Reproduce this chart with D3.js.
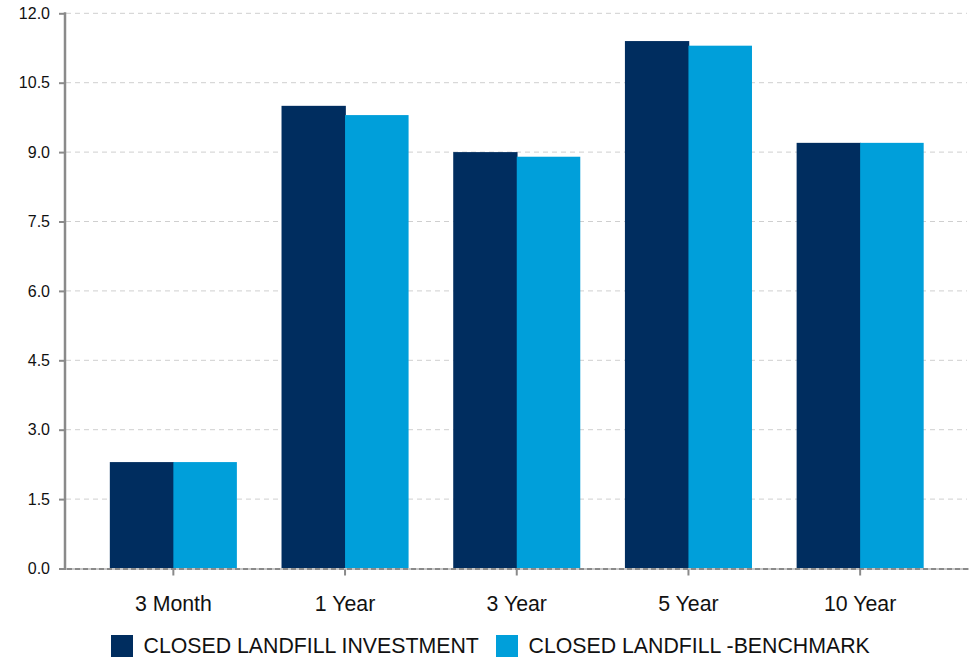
<!DOCTYPE html>
<html>
<head>
<meta charset="utf-8">
<script src="https://cdn.jsdelivr.net/npm/d3@7"></script>
<style>
  html, body { margin: 0; padding: 0; background: #fff; }
  svg { display: block; font-family: "Liberation Sans", Arial, sans-serif; }
</style>
</head>
<body>
<svg id="chart" width="975" height="658"></svg>
<script>
// Return periods and the two series
const categories = ["3 Month", "1 Year", "3 Year", "5 Year", "10 Year"];
const seriesNames = ["CLOSED LANDFILL INVESTMENT", "CLOSED LANDFILL -BENCHMARK"];
const investment = [2.3, 10.0, 9.0, 11.4, 9.2];
const benchmark = [2.3, 9.8, 8.9, 11.3, 9.2];
const yTicks = [0, 1.5, 3.0, 4.5, 6.0, 7.5, 9.0, 10.5, 12.0];
const colors = ["#002d5f", "#009fda"];

const svg = d3.select("#chart");

const plotLeft = 65, plotRight = 967, plotTop = 13.3, plotBottom = 568.5;

const y = d3.scaleLinear().domain([0, 12]).range([plotBottom, plotTop]);
const x = d3.scaleBand().domain(categories).range([87.5, 946]).paddingInner(0.26).paddingOuter(0.13);
const xSub = d3.scaleBand().domain([0, 1]).range([0, x.bandwidth()]);

// Horizontal dashed gridlines
svg.append("g")
  .selectAll("line")
  .data(yTicks.filter(d => d > 0))
  .join("line")
  .attr("x1", plotLeft + 1).attr("x2", plotRight)
  .attr("y1", d => y(d)).attr("y2", d => y(d))
  .attr("stroke", "#cfcfcf")
  .attr("stroke-width", 1)
  .attr("stroke-dasharray", "5,4");

// Bars (grouped; the first bar of each pair is widened slightly so the pair has no seam)
const rows = categories.map((c, i) => ({ cat: c, vals: [investment[i], benchmark[i]] }));
svg.append("g")
  .selectAll("g")
  .data(rows)
  .join("g")
  .attr("transform", d => `translate(${x(d.cat)},0)`)
  .selectAll("rect")
  .data(d => d.vals.map((v, k) => ({ v, k })))
  .join("rect")
  .attr("x", d => xSub(d.k))
  .attr("width", d => xSub.bandwidth() + (d.k === 0 ? 0.8 : 0))
  .attr("y", d => y(d.v))
  .attr("height", d => y(0) - y(d.v))
  .attr("fill", d => colors[d.k]);

// Baseline (dashed gray)
svg.append("line")
  .attr("x1", plotLeft - 6).attr("x2", plotRight + 2)
  .attr("y1", y(0) + 0.5).attr("y2", y(0) + 0.5)
  .attr("stroke", "#c8c8c8").attr("stroke-width", 2);
svg.append("line")
  .attr("x1", plotLeft - 6).attr("x2", plotRight + 2)
  .attr("y1", y(0) + 0.5).attr("y2", y(0) + 0.5)
  .attr("stroke", "#8a8a8a").attr("stroke-width", 2)
  .attr("stroke-dasharray", "5,3");

// Y axis
const yAxis = d3.axisLeft(y)
  .tickValues(yTicks)
  .tickFormat(d3.format(".1f"))
  .tickSize(6)
  .tickPadding(9);
const gy = svg.append("g")
  .attr("transform", `translate(${plotLeft},0)`)
  .call(yAxis);
gy.select(".domain").remove();
gy.selectAll(".tick line").attr("stroke", "#8a8a8a").attr("stroke-width", 2);
gy.selectAll(".tick text")
  .attr("fill", "#111")
  .style("font-size", "16px")
  .style("font-family", "'Liberation Sans', Arial, sans-serif");
svg.append("line")
  .attr("x1", plotLeft).attr("x2", plotLeft)
  .attr("y1", plotTop - 1).attr("y2", y(0) + 1.5)
  .attr("stroke", "#8a8a8a").attr("stroke-width", 2.5);

// X axis ticks and labels
const xAxis = d3.axisBottom(x).tickSize(6).tickPadding(20);
const gx = svg.append("g")
  .attr("transform", `translate(0,${y(0) + 1})`)
  .call(xAxis);
gx.select(".domain").remove();
gx.selectAll(".tick line").attr("stroke", "#8a8a8a").attr("stroke-width", 2);
gx.selectAll(".tick text")
  .attr("fill", "#111")
  .style("font-size", "21.3px")
  .style("font-family", "'Liberation Sans', Arial, sans-serif");

// Legend
const legendItems = [
  { name: seriesNames[0], color: colors[0], sx: 111, tx: 143.5 },
  { name: seriesNames[1], color: colors[1], sx: 496, tx: 528.5 }
];
const lg = svg.append("g").selectAll("g").data(legendItems).join("g");
lg.append("rect")
  .attr("x", d => d.sx).attr("y", 635)
  .attr("width", 22).attr("height", 22)
  .attr("fill", d => d.color);
lg.append("text")
  .attr("x", d => d.tx).attr("y", 653)
  .attr("fill", "#111")
  .style("font-size", "21.3px")
  .text(d => d.name);
</script>
</body>
</html>
